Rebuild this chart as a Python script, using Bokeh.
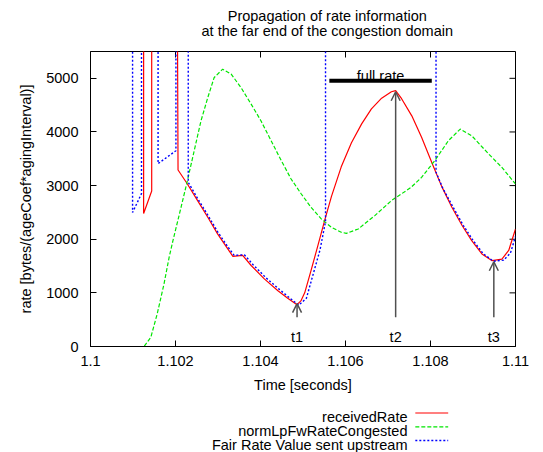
from bokeh.plotting import figure
from bokeh.models import Range1d, FixedTicker, Arrow, OpenHead, ColumnDataSource
from bokeh.layouts import column
from bokeh.embed import file_html
from bokeh.resources import INLINE
from bokeh.core.properties import value
import math

FONT = "Liberation Sans"
FS = "14.5px"

# ---------------- data ----------------
title_lines = ["Propagation of rate information", "at the far end of the congestion domain"]
x_label = "Time [seconds]"
y_label = "rate [bytes/(ageCoef*agingInterval)]"
x_ticks = [1.1, 1.102, 1.104, 1.106, 1.108, 1.11]
x_tick_labels = ["1.1", "1.102", "1.104", "1.106", "1.108", "1.11"]
y_ticks = [0, 1000, 2000, 3000, 4000, 5000]
y_tick_labels = ["0", "1000", "2000", "3000", "4000", "5000"]
series_names = ["receivedRate", "normLpFwRateCongested", "Fair Rate Value sent upstream"]

# receivedRate (values above the range are off-scale spikes)
red_t = [1.10125, 1.10125, 1.10144, 1.10144, 1.10203, 1.10206, 1.10228, 1.10252,
         1.10276, 1.10299, 1.10323, 1.10335, 1.10358, 1.10378, 1.10409, 1.10441,
         1.10464, 1.10486, 1.10495, 1.10504, 1.10519, 1.10535, 1.10551, 1.10567,
         1.1059, 1.10614, 1.10638, 1.10661, 1.10685, 1.10708, 1.10718, 1.10732,
         1.10756, 1.10779, 1.10803, 1.10826, 1.1085, 1.10874, 1.10897, 1.10921,
         1.10945, 1.10968, 1.10984, 1.11]
red_v = [9000, 2480, 2900, 9000, 9000, 3290, 3030, 2720,
         2410, 2100, 1820, 1680, 1700, 1510, 1260, 1040,
         900, 780, 850, 1000, 1420, 1880, 2350, 2800,
         3350, 3800, 4150, 4430, 4630, 4750, 4770, 4620,
         4300, 3900, 3430, 2990, 2600, 2260, 1975, 1725,
         1600, 1630, 1790, 2190]

# normLpFwRateCongested
green_t = [1.1, 1.10126, 1.10142, 1.10157, 1.10173, 1.10185, 1.10194, 1.10213,
           1.10228, 1.10244, 1.1026, 1.10276, 1.10291, 1.10311, 1.10331, 1.10354,
           1.10378, 1.10401, 1.10425, 1.10449, 1.10472, 1.10496, 1.10519, 1.10543,
           1.10567, 1.1059, 1.10602, 1.1063, 1.10669, 1.10708, 1.10754, 1.10779,
           1.1081, 1.10842, 1.1087, 1.10897, 1.10937, 1.10968, 1.11]
green_v = [0, 0, 174, 609, 1167, 1663, 1974, 2594,
           3091, 3650, 4209, 4642, 5015, 5171, 5078, 4829,
           4519, 4209, 3836, 3464, 3123, 2843, 2594, 2378,
           2222, 2130, 2110, 2191, 2440, 2719, 2966, 3153,
           3464, 3836, 4054, 3929, 3588, 3339, 3030]

# Fair Rate Value sent upstream
blue_t = [1.10099, 1.10099, 1.1012, 1.1012, 1.10159, 1.10159, 1.10201, 1.10201,
          1.1023, 1.1023, 1.10252, 1.10276, 1.10299, 1.10323, 1.10338, 1.10362,
          1.10382, 1.10413, 1.10445, 1.10468, 1.1049, 1.10508, 1.10524, 1.1054,
          1.10553, 1.10553, 1.10813, 1.10813, 1.10829, 1.10853, 1.10877, 1.109,
          1.10924, 1.10948, 1.10972, 1.10988, 1.11]
blue_v = [9000, 2500, 2850, 9000, 9000, 3410, 3650, 9000,
          9000, 3060, 2760, 2450, 2140, 1860, 1700, 1710,
          1530, 1280, 1060, 910, 770, 900, 1350, 1800,
          2330, 9000, 9000, 3250, 2950, 2600, 2260, 1980,
          1730, 1590, 1610, 1740, 2050]

# annotations
marker_labels = ["t1", "t2", "t3"]
marker_t = [1.10486, 1.10718, 1.10949]
marker_tip = [800, 4750, 1580]
marker_tail = [546, 546, 546]
marker_text_y = [186, 186, 186]
full_rate_label = "full rate"
full_rate_span = [1.10562, 1.10803]
full_rate_level = 4953
full_rate_text_y = 5050

colors = ["#ff0000", "#00e600", "#0000ff"]
dashes = ["solid", "4 2", "2 2"]
widths = [1.2, 1.2, 1.4]

W = 543

# ---------------- title figure ----------------
TH = 48
tf = figure(width=W, height=TH, x_range=Range1d(0, W), y_range=Range1d(TH, 0),
            output_backend="svg", toolbar_location=None, min_border=0)
tf.axis.visible = False
tf.grid.visible = False
tf.outline_line_color = None
tf.text(x=[302.5, 302.5], y=[15.5, 30.5], text=title_lines, text_align="center",
        text_baseline="alphabetic", text_font=value(FONT), text_font_size=FS,
        text_color="black")

# ---------------- main figure ----------------
p = figure(width=W, height=352, x_range=Range1d(1.1, 1.11), y_range=Range1d(0, 5500),
           output_backend="svg", toolbar_location=None,
           min_border_left=90, min_border_right=28, min_border_top=3, min_border_bottom=54)
p.grid.visible = False
p.outline_line_color = "black"
p.outline_line_width = 1

xa = p.xaxis[0]
ya = p.yaxis[0]
xa.ticker = FixedTicker(ticks=x_ticks)
xa.major_label_overrides = dict(zip(x_ticks, x_tick_labels))
ya.ticker = FixedTicker(ticks=y_ticks)
ya.major_label_overrides = dict(zip(y_ticks, y_tick_labels))
for ax in (xa, ya):
    ax.major_tick_in = 6
    ax.major_tick_out = 0
    ax.minor_tick_line_color = None
    ax.axis_line_color = "black"
    ax.major_tick_line_color = "black"
    ax.major_label_text_font = FONT
    ax.major_label_text_font_size = FS
    ax.major_label_text_color = "black"
    ax.axis_label_text_font = FONT
    ax.axis_label_text_font_size = FS
    ax.axis_label_text_font_style = "normal"
    ax.axis_label_text_color = "black"
xa.axis_label = x_label
ya.axis_label = y_label
xa.major_label_standoff = 9
xa.axis_label_standoff = 8
ya.major_label_standoff = 12
ya.axis_label_standoff = 9

# mirrored ticks on top and right edges
p.ray(x=x_ticks, y=[p.y_range.end] * len(x_ticks), length=6, length_units="screen",
      angle=-math.pi / 2, line_color="black", line_width=1)
p.ray(x=[p.x_range.end] * len(y_ticks), y=y_ticks, length=6, length_units="screen",
      angle=math.pi, line_color="black", line_width=1)

series = [(red_t, red_v), (green_t, green_v), (blue_t, blue_v)]
for (t, v), c, d, w in zip(series, colors, dashes, widths):
    p.line(t, v, line_color=c, line_dash=d, line_width=w)

# full rate bar
p.segment(x0=[full_rate_span[0]], y0=[full_rate_level], x1=[full_rate_span[1]],
          y1=[full_rate_level], line_color="black", line_width=4)
p.text(x=[(full_rate_span[0] + full_rate_span[1]) / 2], y=[full_rate_text_y],
       text=[full_rate_label], text_align="center", text_baseline="alphabetic",
       text_font=value(FONT), text_font_size=FS, text_color="black")

# arrows t1..t3
asrc = ColumnDataSource(dict(x=marker_t, y0=marker_tail, y1=marker_tip,
                             ty=marker_text_y, lab=marker_labels))
p.add_layout(Arrow(end=OpenHead(size=9, line_color="#505050", line_width=1.5),
                   x_start="x", y_start="y0", x_end="x", y_end="y1", source=asrc,
                   line_color="#505050", line_width=1.5))
p.text(x="x", y="ty", text="lab", source=asrc, text_align="center",
       text_baseline="alphabetic", text_font=value(FONT), text_font_size=FS,
       text_color="black")

# ---------------- legend figure ----------------
LH = 52
lf = figure(width=W, height=LH, x_range=Range1d(0, W), y_range=Range1d(LH, 0),
            output_backend="svg", toolbar_location=None, min_border=0)
lf.axis.visible = False
lf.grid.visible = False
lf.outline_line_color = None
base = [16.5, 30.3, 44]
lf.text(x=[405] * 3, y=base, text=series_names, text_align="right",
        text_baseline="alphabetic", text_font=value(FONT), text_font_size=FS,
        text_color="black")
for i, (c, d, w) in enumerate(zip(colors, dashes, widths)):
    lf.line([415, 457], [base[i] - 4, base[i] - 4], line_color=c, line_dash=d, line_width=w)

layout = column(tf, p, lf, spacing=0)
open("out.html", "w").write(file_html(layout, INLINE))
